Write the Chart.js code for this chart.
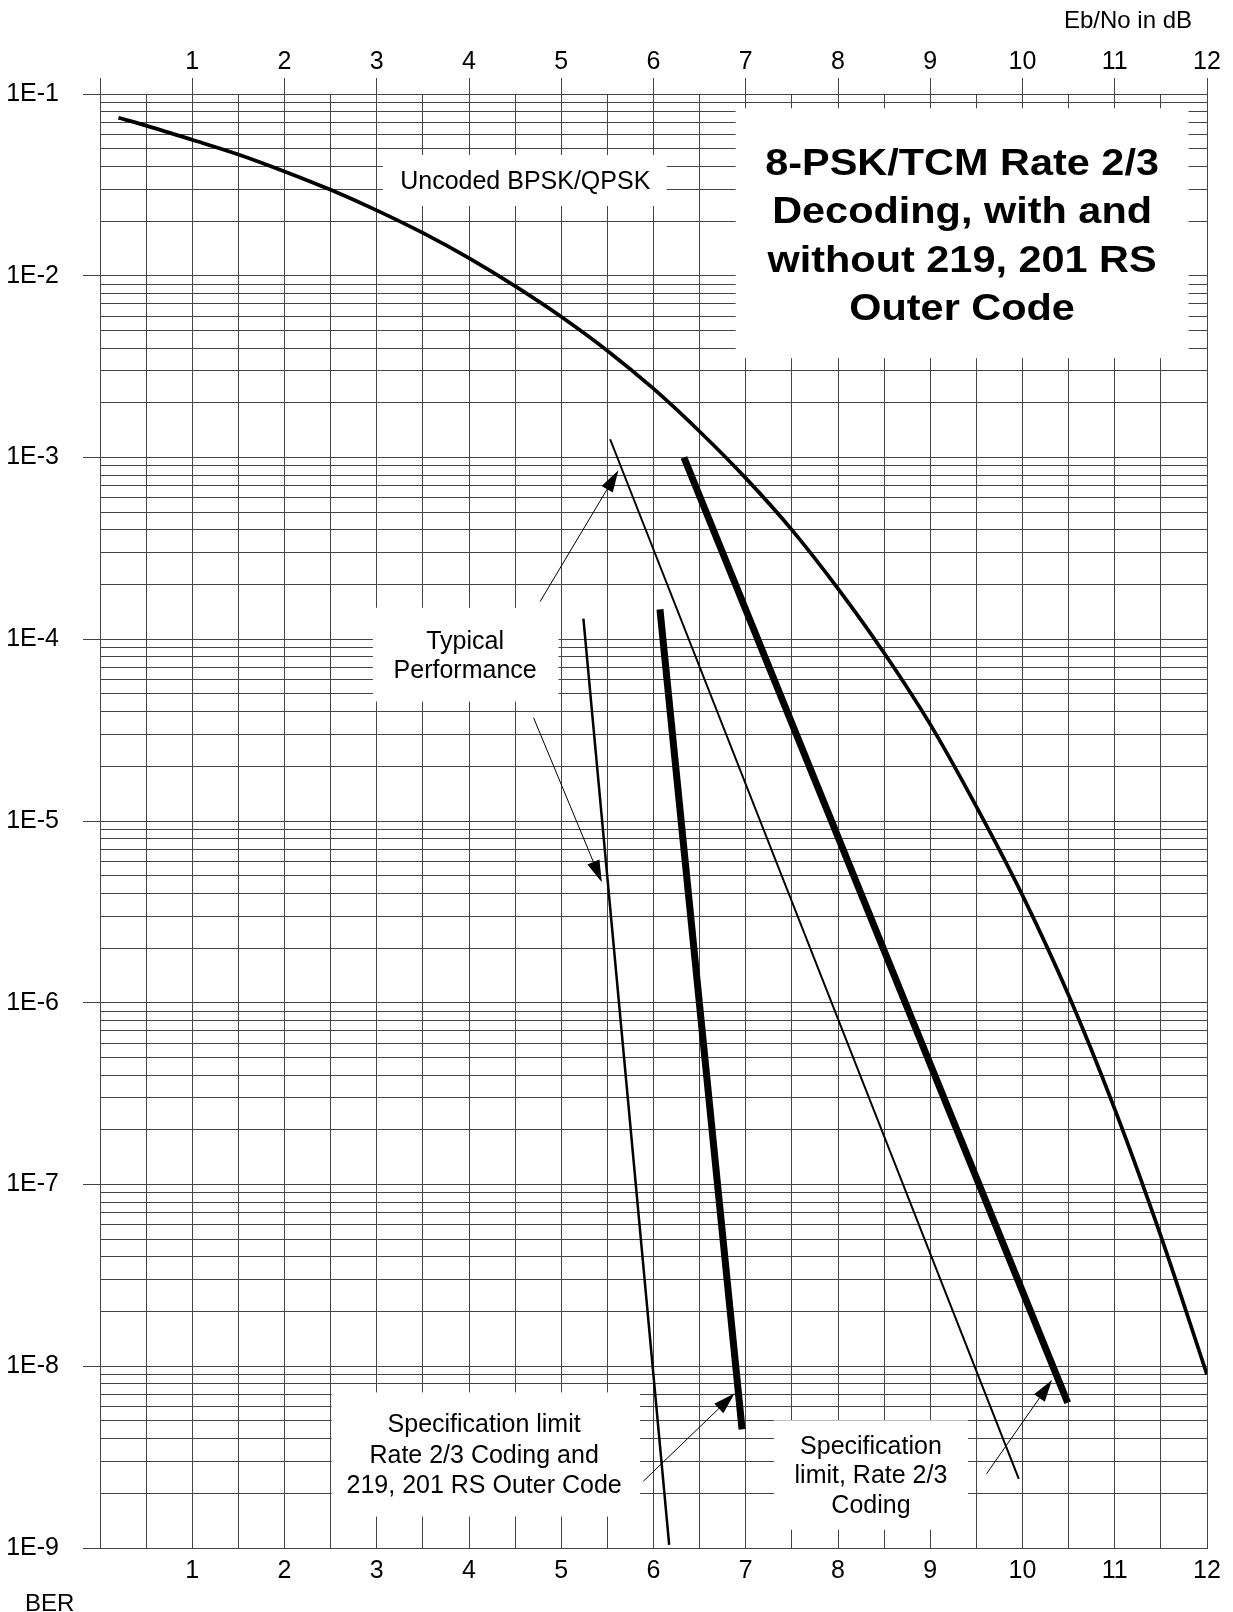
<!DOCTYPE html>
<html>
<head>
<meta charset="utf-8">
<script src="https://cdn.jsdelivr.net/npm/chart.js@4.4.1/dist/chart.umd.min.js"></script>
<style>
  html, body { margin: 0; padding: 0; background: #fff; }
  canvas { display: block; }
</style>
</head>
<body>
<canvas id="ber" width="1233" height="1612"></canvas>
<script>
// Eb/No in dB (x) and BER (y)
const uncodedEbNo = [0.2, 0.5, 1, 1.5, 2, 2.5, 3, 3.5, 4, 4.5, 5, 5.5, 6, 6.5, 7, 7.5, 8, 8.5, 9, 9.5, 10, 10.5, 11, 11.5, 12];
const uncodedBer = [7.4e-2, 6.7e-2, 5.6e-2, 4.65e-2, 3.75e-2, 2.97e-2, 2.29e-2, 1.72e-2, 1.25e-2, 8.77e-3, 5.95e-3, 3.87e-3,
                    2.39e-3, 1.39e-3, 7.7e-4, 4.0e-4, 1.9e-4, 8.4e-5, 3.4e-5, 1.2e-5, 3.9e-6, 1.1e-6, 2.6e-7, 5.2e-8, 9e-9];

const typicalEbNo = [5.53, 9.96];       // rate 2/3, typical
const typicalBer = [1.26e-3, 2.4e-9];
const specEbNo = [6.33, 10.49];         // rate 2/3, specification limit
const specBer = [1.0e-3, 6.3e-9];
const typicalRsEbNo = [5.24, 6.17];     // rate 2/3 + RS, typical
const typicalRsBer = [1.3e-4, 1.04e-9];
const specRsEbNo = [6.07, 6.96];        // rate 2/3 + RS, specification limit
const specRsBer = [1.46e-4, 4.5e-9];

const xTickLabels = ['1', '2', '3', '4', '5', '6', '7', '8', '9', '10', '11', '12'];
const yDecades = [1e-1, 1e-2, 1e-3, 1e-4, 1e-5, 1e-6, 1e-7, 1e-8, 1e-9];
const yTickLabels = ['1E-1', '1E-2', '1E-3', '1E-4', '1E-5', '1E-6', '1E-7', '1E-8', '1E-9'];

// white label boxes, in data units
const boxes = [
  { x0: 3.066, x1: 6.143, y0: 4.62e-2, y1: 2.42e-2 },
  { x0: 6.89, x1: 11.80, y0: 8.34e-2, y1: 3.52e-3 },
  { x0: 2.958, x1: 4.969, y0: 1.49e-4, y1: 4.54e-5 },
  { x0: 2.51, x1: 5.854, y0: 7.18e-9, y1: 1.49e-9 },
  { x0: 7.305, x1: 9.41, y0: 5.04e-9, y1: 1.26e-9 }
];

// arrows: from -> tip, in data units
const arrows = [
  { from: [4.77, 1.61e-4], to: [5.62, 8.5e-4] },
  { from: [4.70, 3.7e-5], to: [5.44, 4.6e-6] },
  { from: [5.89, 2.33e-9], to: [6.88, 7.1e-9] },
  { from: [9.61, 2.56e-9], to: [10.32, 8.4e-9] }
];

const notes = [
  { lines: ['Uncoded BPSK/QPSK'], x: 4.61, y: 2.99e-2, lh: 0 },
  { lines: ['8-PSK/TCM Rate 2/3', 'Decoding, with and', 'without 219, 201 RS', 'Outer Code'], x: 9.345, y: 3.6e-2, lh: 48.5, bold: true },
  { lines: ['Typical', 'Performance'], x: 3.958, y: 8.86e-5, lh: 29 },
  { lines: ['Specification limit', 'Rate 2/3 Coding and', '219, 201 RS Outer Code'], x: 4.164, y: 4.33e-9, lh: 30.3 },
  { lines: ['Specification', 'limit, Rate 2/3', 'Coding'], x: 8.357, y: 3.30e-9, lh: 29.7 }
];

const FONT = "'Liberation Sans', Arial, Helvetica, sans-serif";
const GRID = '#444';

// all log grid values: 1..9 per decade
const yGrid = [];
for (let e = -9; e <= -2; e++) {
  for (let m = 1; m <= 9; m++) yGrid.push(Number(m + 'e' + e));
}
yGrid.push(1e-1);

function isDecade(v) {
  return yDecades.some(d => Math.abs(v / d - 1) < 1e-6);
}
function pts(xs, ys) {
  return xs.map((x, i) => ({ x: x, y: ys[i] }));
}

const overlay = {
  id: 'overlay',
  beforeDatasetsDraw(chart) {
    const { ctx, scales: { x, y } } = chart;
    ctx.save();
    ctx.fillStyle = '#fff';
    boxes.forEach(b => {
      const l = x.getPixelForValue(b.x0), r = x.getPixelForValue(b.x1);
      const t = y.getPixelForValue(b.y0), bt = y.getPixelForValue(b.y1);
      ctx.fillRect(l, t, r - l, bt - t);
    });
    ctx.restore();
  },
  afterDatasetsDraw(chart) {
    const { ctx, scales: { x, y } } = chart;
    ctx.save();
    ctx.strokeStyle = '#000';
    ctx.fillStyle = '#000';
    ctx.lineWidth = 1;
    arrows.forEach(a => {
      const x0 = x.getPixelForValue(a.from[0]), y0 = y.getPixelForValue(a.from[1]);
      const x1 = x.getPixelForValue(a.to[0]), y1 = y.getPixelForValue(a.to[1]);
      const ang = Math.atan2(y1 - y0, x1 - x0);
      const len = 22, hw = 6.5;
      const bx = x1 - len * Math.cos(ang), by = y1 - len * Math.sin(ang);
      ctx.beginPath();
      ctx.moveTo(x0, y0);
      ctx.lineTo(bx, by);
      ctx.stroke();
      ctx.beginPath();
      ctx.moveTo(x1, y1);
      ctx.lineTo(bx + hw * Math.sin(ang), by - hw * Math.cos(ang));
      ctx.lineTo(bx - hw * Math.sin(ang), by + hw * Math.cos(ang));
      ctx.closePath();
      ctx.fill();
    });

    ctx.textAlign = 'center';
    ctx.textBaseline = 'alphabetic';
    notes.forEach(n => {
      const px = x.getPixelForValue(n.x), py = y.getPixelForValue(n.y);
      n.lines.forEach((line, i) => {
        if (n.bold) {
          // title lettering is a little wider than plain Arial
          ctx.save();
          ctx.font = 'bold 37px ' + FONT;
          ctx.translate(px, py + i * n.lh);
          ctx.scale(1.12, 1);
          ctx.fillText(line, 0, 0);
          ctx.restore();
        } else {
          ctx.font = '25px ' + FONT;
          ctx.fillText(line, px, py + i * n.lh);
        }
      });
    });
    ctx.restore();
  },
  afterDraw(chart) {
    const { ctx, chartArea } = chart;
    ctx.save();
    ctx.fillStyle = '#000';
    ctx.font = '24px ' + FONT;
    ctx.textBaseline = 'alphabetic';
    ctx.textAlign = 'right';
    ctx.fillText('Eb/No in dB', chartArea.right - 15, 28);
    ctx.textAlign = 'left';
    ctx.fillText('BER', 25, 1611);
    ctx.restore();
  }
};

const tickFont = { family: FONT, size: 25 };
const xLabel = v => {
  const i = xTickLabels.indexOf(String(v));
  return i >= 0 ? xTickLabels[i] : '';
};

new Chart(document.getElementById('ber'), {
  type: 'line',
  data: {
    datasets: [
      { label: 'Uncoded BPSK/QPSK', data: pts(uncodedEbNo, uncodedBer), borderWidth: 3.7, cubicInterpolationMode: 'monotone' },
      { label: 'Rate 2/3 typical', data: pts(typicalEbNo, typicalBer), borderWidth: 2 },
      { label: 'Rate 2/3 spec limit', data: pts(specEbNo, specBer), borderWidth: 7 },
      { label: 'Rate 2/3 + RS typical', data: pts(typicalRsEbNo, typicalRsBer), borderWidth: 2.5 },
      { label: 'Rate 2/3 + RS spec limit', data: pts(specRsEbNo, specRsBer), borderWidth: 7 }
    ].map(d => Object.assign(d, { xAxisID: 'x', yAxisID: 'y', borderColor: '#000', pointRadius: 0, fill: false }))
  },
  options: {
    responsive: false,
    animation: false,
    devicePixelRatio: 1,
    layout: { padding: { left: 0, right: 26, top: 0, bottom: 0 } },
    plugins: { legend: { display: false }, tooltip: { enabled: false } },
    scales: {
      x: {
        type: 'linear', position: 'bottom', min: 0, max: 12,
        afterFit: s => { s.height = 64; },
        ticks: { stepSize: 0.5, autoSkip: false, maxRotation: 0, padding: 8, color: '#000', font: tickFont, callback: xLabel },
        grid: { color: GRID, lineWidth: 1, drawTicks: false },
        border: { color: GRID }
      },
      x2: {
        type: 'linear', position: 'top', min: 0, max: 12,
        afterFit: s => { s.height = 94; },
        ticks: { stepSize: 0.5, autoSkip: false, maxRotation: 0, padding: 1, color: '#000', font: tickFont, callback: xLabel },
        grid: {
          drawOnChartArea: false, drawTicks: true, tickLength: 16, tickWidth: 1,
          tickColor: c => (c.tick && Number.isInteger(c.tick.value)) ? GRID : 'rgba(0,0,0,0)'
        },
        border: { display: false }
      },
      y: {
        type: 'logarithmic', min: 1e-9, max: 1e-1,
        afterFit: s => { s.width = 100; },
        afterBuildTicks: s => { s.ticks = yGrid.map(v => ({ value: v, major: isDecade(v) })); },
        ticks: {
          autoSkip: false, padding: 24, color: '#000', font: tickFont,
          callback: v => {
            const i = yDecades.findIndex(d => Math.abs(v / d - 1) < 1e-6);
            return i >= 0 ? yTickLabels[i] : '';
          }
        },
        grid: {
          color: GRID, lineWidth: 1, drawTicks: true, tickLength: 17, tickWidth: 1,
          tickColor: c => (c.tick && isDecade(c.tick.value)) ? GRID : 'rgba(0,0,0,0)'
        },
        border: { color: GRID }
      }
    }
  },
  plugins: [overlay]
});
</script>
</body>
</html>
